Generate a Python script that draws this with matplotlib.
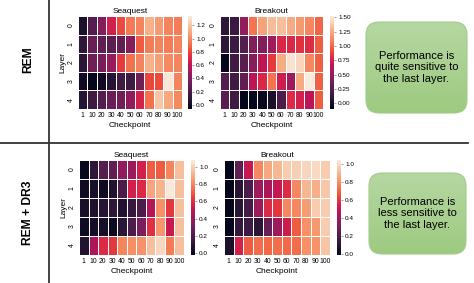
import numpy as np
import matplotlib
matplotlib.use("Agg")
import matplotlib.pyplot as plt
import seaborn as sns
from matplotlib.patches import FancyBboxPatch
from matplotlib.colors import LinearSegmentedColormap

plt.rcParams['font.family'] = ['Liberation Sans', 'DejaVu Sans']

checkpoints = ["1", "10", "20", "30", "40", "50", "60", "70", "80", "90", "100"]
layers = ["0", "1", "2", "3", "4"]

rem_seaquest = [
    [0.04, 0.25, 0.40, 0.67, 0.81, 0.95, 0.98, 1.13, 1.06, 0.98, 0.96],
    [0.12, 0.32, 0.28, 0.27, 0.30, 0.42, 0.86, 0.96, 0.98, 0.96, 0.98],
    [0.10, 0.33, 0.37, 0.47, 0.77, 0.92, 0.98, 1.13, 1.07, 1.00, 0.98],
    [0.00, -0.04, 0.00, 0.08, 0.18, 0.17, 0.35, 0.80, 0.82, 1.32, 0.98],
    [0.08, 0.17, 0.25, 0.32, 0.35, 0.45, 0.68, 0.92, 1.20, 1.10, 1.00],
]
rem_breakout = [
    [0.10, 0.15, 0.50, 1.05, 1.22, 1.32, 1.33, 1.25, 1.18, 1.12, 1.00],
    [0.10, 0.15, 0.25, 0.42, 0.43, 0.55, 0.78, 0.78, 0.82, 0.80, 0.97],
    [-0.08, 0.17, 0.27, 0.45, 0.65, 0.85, 1.25, 1.48, 1.43, 1.12, 0.98],
    [0.25, 0.17, 0.30, 0.65, 0.78, 1.05, 0.72, 0.53, 1.25, 1.52, 0.98],
    [0.27, 0.17, -0.10, -0.08, -0.05, 0.02, 0.22, 0.80, 0.75, 0.65, 0.97],
]
dr3_seaquest = [
    [0.00, 0.12, 0.22, 0.26, 0.38, 0.40, 0.55, 0.70, 0.70, 0.80, 0.95],
    [0.03, 0.05, 0.02, 0.08, 0.20, 0.55, 0.58, 0.88, 0.92, 1.07, 0.95],
    [0.05, 0.07, 0.09, 0.12, 0.08, 0.14, 0.20, 0.47, 0.82, 0.62, 0.95],
    [0.02, 0.04, 0.05, 0.02, 0.10, 0.20, 0.32, 0.60, 0.84, 0.52, 0.95],
    [0.08, 0.45, 0.58, 0.62, 0.80, 0.82, 0.83, 0.95, 1.02, 0.78, 0.95],
]
dr3_breakout = [
    [0.00, 0.25, 0.50, 0.78, 0.86, 0.90, 0.95, 0.96, 0.98, 0.99, 0.95],
    [0.00, 0.10, 0.20, 0.40, 0.43, 0.50, 0.57, 0.78, 0.90, 0.88, 0.94],
    [0.00, 0.10, 0.18, 0.40, 0.57, 0.60, 0.78, 0.78, 0.83, 0.95, 0.95],
    [0.00, 0.13, 0.16, 0.11, 0.27, 0.40, 0.52, 0.68, 0.80, 0.82, 0.95],
    [0.06, 0.54, 0.68, 0.72, 0.71, 0.72, 0.71, 0.72, 0.80, 0.81, 0.93],
]

row_labels = ["REM", "REM + DR3"]
notes = ["Performance is\nquite sensitive to\nthe last layer.",
         "Performance is\nless sensitive to\nthe last layer."]

W, H = 474, 283
fig = plt.figure(figsize=(W / 100, H / 100), dpi=100)

def frac(x0, y0, x1, y1):
    return [x0 / W, 1 - y1 / H, (x1 - x0) / W, (y1 - y0) / H]

panels = [
    (rem_seaquest, (78, 16, 182, 109), (188, 16, 192, 109), (-0.06, 1.34), True, "Seaquest"),
    (rem_breakout, (220, 16, 323, 109), (330, 16, 334, 109), (-0.10, 1.52), False, "Breakout"),
    (dr3_seaquest, (79, 160, 184, 255), (191, 160, 195, 255), (-0.02, 1.077), True, "Seaquest"),
    (dr3_breakout, (224, 160, 330, 255), (337, 160, 341, 255), (-0.01, 1.04), False, "Breakout"),
]

tick_fs = 4.9
cb_fs = 4.6
lab_fs = 6.0
for data, pos, cpos, (vmin, vmax), show_ylabel, title in panels:
    ax = fig.add_axes(frac(*pos))
    cax = fig.add_axes(frac(*cpos))
    sns.heatmap(np.array(data), ax=ax, cbar_ax=cax, cmap="rocket", vmin=vmin, vmax=vmax,
                linewidths=0.6, linecolor="white",
                xticklabels=checkpoints, yticklabels=layers)
    ax.set_title(title, fontsize=lab_fs, pad=2.5)
    ax.set_xlabel("Checkpoint", fontsize=lab_fs, labelpad=1.5)
    if show_ylabel:
        ax.set_ylabel("Layer", fontsize=lab_fs, labelpad=1)
    ax.tick_params(axis="both", length=0, labelsize=tick_fs, pad=2.5)
    plt.setp(ax.get_yticklabels(), rotation=90, va="center")
    plt.setp(ax.get_xticklabels(), rotation=0)
    cax.tick_params(length=1.5, width=0.4, labelsize=cb_fs, pad=1.5, color="#555555")
    cax.yaxis.set_major_formatter(matplotlib.ticker.FormatStrFormatter(
        "%.2f" if vmax > 1.4 else "%.1f"))
    for s in cax.spines.values():
        s.set_visible(False)

# overlay for lines and side labels
ov = fig.add_axes([0, 0, 1, 1], zorder=-1)
ov.set_xlim(0, W)
ov.set_ylim(H, 0)
ov.axis("off")
ov.plot([49, 49], [0, H], color="#111111", lw=1.1)
ov.plot([0, 468], [143, 143], color="#333333", lw=1.3)
ov.text(28, 60, row_labels[0], rotation=90, ha="center", va="center",
        fontsize=8.7, fontweight="bold")
ov.text(28, 213, row_labels[1], rotation=90, ha="center", va="center",
        fontsize=8.7, fontweight="bold")

# note boxes
boxes = [(366, 22, 467, 113), (369, 173, 466, 254)]
grad = np.linspace(0, 1, 100).reshape(-1, 1)
gcm = LinearSegmentedColormap.from_list("g", ["#b6d7a2", "#9dca80"])
ov2 = fig.add_axes([0, 0, 1, 1], zorder=5)
ov2.axis("off")
for (x0, y0, x1, y1), note in zip(boxes, notes):
    r = 13
    p = FancyBboxPatch((x0 + r, y0 + r), (x1 - x0) - 2 * r, (y1 - y0) - 2 * r,
                       boxstyle=f"round,pad={r}", facecolor="none",
                       edgecolor="#a3cc8c", lw=0.8, zorder=2)
    ov2.add_patch(p)
    im = ov2.imshow(grad, cmap=gcm, extent=(x0, x1, y1, y0), aspect="auto", zorder=1)
    im.set_clip_path(p)
    ov2.text((x0 + x1) / 2, (y0 + y1) / 2, note, ha="center", va="center",
             fontsize=8.0, linespacing=1.2, zorder=3)
ov2.set_xlim(0, W)
ov2.set_ylim(H, 0)

fig.savefig("out.png", dpi=100)
